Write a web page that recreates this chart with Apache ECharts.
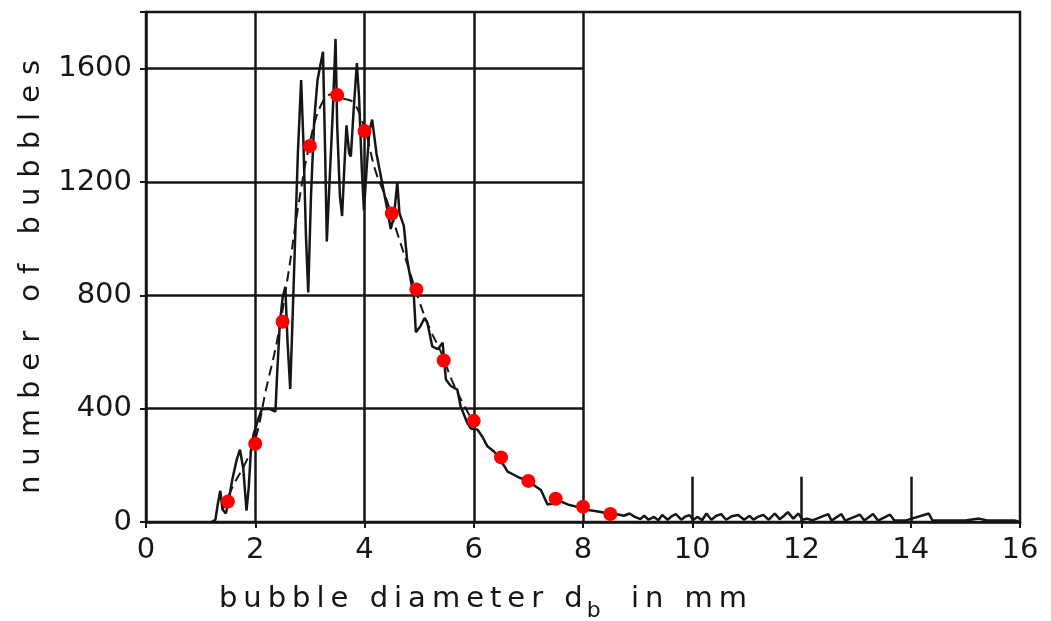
<!DOCTYPE html>
<html>
<head>
<meta charset="utf-8">
<script src="https://cdn.jsdelivr.net/npm/echarts@6/dist/echarts.min.js"></script>
<style>
  html, body { margin: 0; padding: 0; background: #fff; }
  #chart { width: 1051px; height: 621px; }
</style>
</head>
<body>
<div id="chart"></div>
<script>
// axis ticks
var xTicks = [0, 2, 4, 6, 8, 10, 12, 14, 16];
var yTicks = [0, 400, 800, 1200, 1600];

// measured histogram (solid trace), [diameter mm, count]
var measured = [
  [1.20, 0], [1.27, 8], [1.32, 70], [1.36, 110], [1.40, 45], [1.46, 30], [1.50, 60],
  [1.58, 150], [1.66, 220], [1.72, 255], [1.78, 190], [1.84, 40], [1.88, 120],
  [1.92, 250], [1.97, 310], [2.05, 360], [2.12, 398], [2.25, 400], [2.37, 390],
  [2.40, 520], [2.45, 700], [2.50, 790], [2.55, 830], [2.59, 640], [2.64, 470],
  [2.68, 700], [2.73, 1000], [2.78, 1300], [2.84, 1560], [2.88, 1350], [2.93, 1000],
  [2.97, 810], [3.02, 1150], [3.08, 1420], [3.14, 1560], [3.20, 1620], [3.24, 1660],
  [3.28, 1300], [3.31, 990], [3.36, 1200], [3.42, 1450], [3.47, 1705], [3.50, 1400],
  [3.55, 1150], [3.59, 1080], [3.63, 1250], [3.67, 1400], [3.72, 1300], [3.75, 1290],
  [3.80, 1450], [3.86, 1620], [3.90, 1500], [3.95, 1250], [3.99, 1100], [4.04, 1250],
  [4.09, 1380], [4.14, 1420], [4.22, 1300], [4.32, 1200], [4.42, 1100], [4.48, 1034],
  [4.54, 1080], [4.60, 1200], [4.64, 1090], [4.72, 1045], [4.78, 927], [4.86, 840],
  [4.90, 810], [4.94, 670], [5.02, 690], [5.10, 720], [5.15, 704], [5.24, 620],
  [5.34, 610], [5.43, 633], [5.49, 503], [5.58, 480], [5.70, 467], [5.76, 408],
  [5.88, 350], [5.95, 330], [6.07, 326], [6.16, 300], [6.25, 267], [6.37, 249],
  [6.45, 230], [6.55, 200], [6.62, 178], [6.75, 165], [6.85, 155], [6.99, 149],
  [7.10, 130], [7.23, 113], [7.35, 62], [7.45, 65], [7.60, 72], [7.72, 62],
  [7.84, 56], [7.95, 50], [8.09, 42], [8.25, 38], [8.45, 31], [8.60, 28],
  [8.75, 22], [8.85, 30], [8.94, 19], [9.05, 10], [9.12, 22], [9.20, 8], [9.30, 18],
  [9.38, 6], [9.45, 25], [9.55, 8], [9.62, 20], [9.70, 28], [9.80, 8], [9.88, 20],
  [9.95, 24], [10.02, 8], [10.10, 18], [10.18, 6], [10.26, 30], [10.35, 8], [10.44, 22],
  [10.53, 28], [10.62, 8], [10.72, 20], [10.84, 25], [10.95, 8], [11.05, 22], [11.12, 8],
  [11.20, 18], [11.30, 25], [11.40, 8], [11.51, 30], [11.60, 10], [11.68, 22],
  [11.75, 35], [11.85, 12], [11.94, 30], [12.02, 8], [12.10, 12], [12.20, 6], [12.49, 28],
  [12.55, 5], [12.73, 28], [12.80, 5], [13.07, 26], [13.15, 5], [13.31, 28], [13.40, 5],
  [13.62, 26], [13.70, 5], [13.90, 5], [14.33, 30], [14.40, 5], [15.00, 5], [15.25, 12],
  [15.40, 5], [15.90, 5], [16.00, 0]
];

// smoothed fit (dashed)
var fitX = [1.4, 1.6, 1.8, 2.0, 2.2, 2.4, 2.6, 2.8, 3.0, 3.2, 3.4, 3.6, 3.8, 4.0,
  4.2, 4.4, 4.6, 4.8, 5.0, 5.2, 5.4, 5.6, 5.8, 6.0];
var fitY = [40, 130, 200, 290, 470, 640, 870, 1130, 1340, 1470, 1510, 1495, 1480, 1390,
  1240, 1140, 1020, 900, 780, 680, 600, 500, 420, 350];

// red points
var dotX = [1.5, 2.0, 2.5, 3.0, 3.5, 4.0, 4.5, 4.95, 5.45, 6.0, 6.5, 7.0, 7.5, 8.0, 8.5];
var dotY = [72, 276, 707, 1327, 1507, 1380, 1089, 821, 570, 357, 228, 145, 82, 54, 28];

var ink = '#161616';
var font = 'DejaVu Sans';

// spread letters like the stencil lettering of the original
function spaced(str, key) {
  return str.split('').map(function (c) { return '{' + key + '|' + c + '}'; }).join('');
}

var gridLines = [];
yTicks.slice(1).forEach(function (v) {
  gridLines.push([{ coord: [0, v] }, { coord: [8, v] }]);
});
[2, 4, 6, 8].forEach(function (v) {
  gridLines.push([{ coord: [v, 0] }, { coord: [v, 1800] }]);
});
[10, 12, 14].forEach(function (v) {
  gridLines.push([{ coord: [v, 0] }, { coord: [v, 160] }]);
});

var chart = echarts.init(document.getElementById('chart'));
chart.setOption({
  backgroundColor: '#fff',
  animation: false,
  grid: {
    left: 146, right: 31, top: 12, bottom: 99,
    outerBoundsMode: 'none',
    show: true, borderColor: ink, borderWidth: 2.5, backgroundColor: 'transparent'
  },
  xAxis: {
    type: 'value', min: 0, max: 16, interval: 2,
    name: spaced('bubble diameter d', 'c') + '{sub|b}' + spaced(' in mm', 'c'),
    nameLocation: 'middle', nameGap: 63,
    nameTextStyle: {
      padding: [0, 200, 0, 0],
      rich: {
        c: { fontFamily: font, fontSize: 29, color: ink, padding: [0, 3, 0, 3], verticalAlign: 'top' },
        sub: { fontFamily: font, fontSize: 22, color: ink, padding: [15, 12, 0, 1], verticalAlign: 'top' }
      }
    },
    axisLine: { lineStyle: { color: ink, width: 2.5 } },
    axisTick: { show: true, length: 6, lineStyle: { color: ink, width: 2 } },
    axisLabel: {
      fontFamily: font, fontSize: 29, color: ink, margin: 14,
      formatter: function (v) { return xTicks.indexOf(v) >= 0 ? String(v) : ''; }
    },
    splitLine: { show: false }
  },
  yAxis: {
    type: 'value', min: 0, max: 1800, interval: 400,
    name: spaced('number of bubbles', 'c'),
    nameLocation: 'middle', nameGap: 100, nameRotate: 90,
    nameTextStyle: {
      padding: [0, 20, 0, 0],
      rich: {
        c: { fontFamily: font, fontSize: 29, color: ink, padding: [0, 5, 0, 5] }
      }
    },
    axisLine: { show: true, lineStyle: { color: ink, width: 2.5 } },
    axisTick: { show: true, length: 6, lineStyle: { color: ink, width: 2 } },
    axisLabel: {
      fontFamily: font, fontSize: 29, color: ink, margin: 14,
      formatter: function (v) { return yTicks.indexOf(v) >= 0 ? String(v) : ''; }
    },
    splitLine: { show: false }
  },
  series: [
    {
      type: 'line', data: measured, symbol: 'none', silent: true,
      lineStyle: { color: ink, width: 2.5 },
      markLine: {
        silent: true, symbol: 'none', label: { show: false },
        lineStyle: { color: ink, width: 2.5, type: 'solid' },
        data: gridLines
      },
      z: 3
    },
    {
      type: 'line', data: fitX.map(function (x, i) { return [x, fitY[i]]; }),
      symbol: 'none', smooth: 0.4, silent: true,
      lineStyle: { color: ink, width: 2, type: [10, 6] },
      z: 4
    },
    {
      type: 'scatter', data: dotX.map(function (x, i) { return [x, dotY[i]]; }),
      symbol: 'circle', symbolSize: 14, itemStyle: { color: '#ff0000', opacity: 1 },
      z: 5
    }
  ]
});
</script>
</body>
</html>
